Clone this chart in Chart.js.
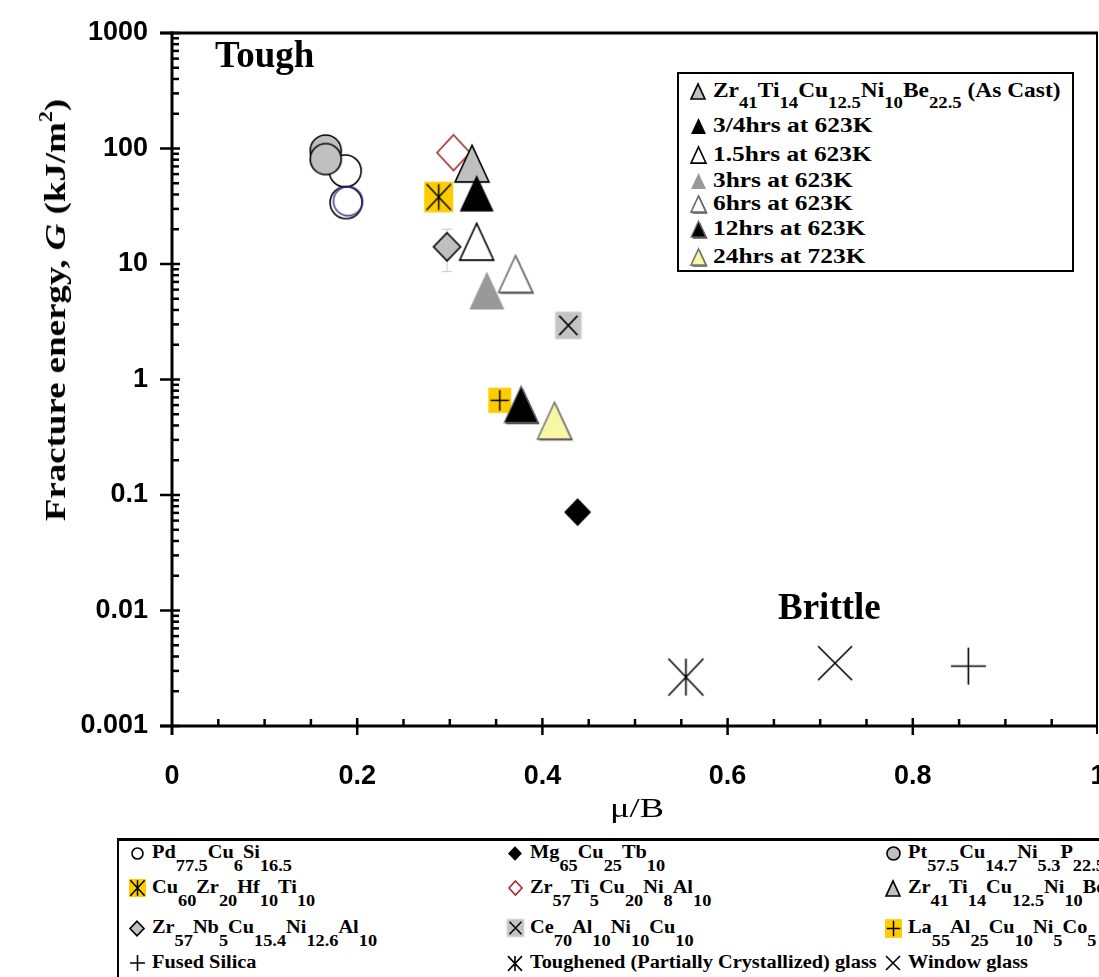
<!DOCTYPE html>
<html>
<head>
<meta charset="utf-8">
<script src="https://cdn.jsdelivr.net/npm/chart.js@4.4.1/dist/chart.umd.min.js"></script>
<style>
  html, body { margin: 0; padding: 0; background: #fff; overflow: hidden; }
  #wrap { position: relative; width: 1099px; height: 977px; overflow: hidden; background: #fff; }
  #chart { position: absolute; left: 0; top: 0; }
  .serif { position: absolute; font-family: "Liberation Serif", "Times New Roman", serif; font-weight: bold;
           line-height: 1; white-space: nowrap; color: #000; transform-origin: 0 0; }
  .box { position: absolute; border: 2px solid #000; background: #fff; }
  .mk { position: absolute; }
  .leg sub { font-size: 0.9em; vertical-align: -0.8em; line-height: 0; }
  .ins sub { font-size: 0.8em; vertical-align: -0.7em; line-height: 0; }
  #ytitle sup { font-size: 0.6em; vertical-align: 0.7em; line-height: 0; }
</style>
</head>
<body>
<div id="wrap">
  <canvas id="chart" width="1099" height="977"></canvas>
  <div class="serif" style="left:215px;top:36px;font-size:37px">Tough</div>
  <div class="serif" style="left:778px;top:588px;font-size:37px">Brittle</div>
  <div class="serif" style="left:610px;top:795px;font-size:27px;font-weight:normal;transform:scaleX(1.35)">&mu;/B</div>
  <div class="serif" id="ytitle" style="left:55px;top:310px;font-size:30px;transform-origin:50% 50%;transform:translate(-50%,-50%) rotate(-90deg) scaleX(1.23)">Fracture energy, <i>G</i> (kJ/m<sup>2</sup>)</div>
  <div class="box" id="inset" style="left:677px;top:72px;width:393px;height:196px"></div>
  <div class="box" id="legbox" style="left:117px;top:838px;width:1100px;height:200px;border-top-width:3px"></div>
</div>
<script>
// axis ticks
const xTicks = [0, 0.2, 0.4, 0.6, 0.8, 1]
const xMinorStep = 0.05
const yTicks = [0.001, 0.01, 0.1, 1, 10, 100, 1000]

// mu/B and fracture energy G (kJ/m^2)
const pdX = [0.187, 0.188]
const pdY = [64, 34]
const pdBlueX = [0.190]
const pdBlueY = [35]
const ptX = [0.166, 0.166]
const ptY = [96, 81]
const zrTiCuNiAlX = [0.304]
const zrTiCuNiAlY = [92]
const asCastX = [0.324]
const asCastY = [74]
const cuZrHfTiX = [0.288]
const cuZrHfTiY = [38]
const h075X = [0.329]
const h075Y = [41]
const zrNbX = [0.297]
const zrNbY = [14.1]
const zrNbLow = [8.6]
const zrNbHigh = [20]
const h15X = [0.329]
const h15Y = [15.6]
const h6X = [0.371]
const h6Y = [8.2]
const h3X = [0.340]
const h3Y = [5.9]
const ceX = [0.428]
const ceY = [2.94]
const laX = [0.354]
const laY = [0.66]
const h12X = [0.377]
const h12Y = [0.61]
const h24X = [0.413]
const h24Y = [0.44]
const mgX = [0.438]
const mgY = [0.071]
const tGlassX = [0.555]
const tGlassY = [0.00265]
const wGlassX = [0.716]
const wGlassY = [0.0035]
const silicaX = [0.86]
const silicaY = [0.0033]

const insetLabels = [
  "Zr<sub>41</sub>Ti<sub>14</sub>Cu<sub>12.5</sub>Ni<sub>10</sub>Be<sub>22.5</sub> (As Cast)",
  "3/4hrs at 623K",
  "1.5hrs at 623K",
  "3hrs at 623K",
  "6hrs at 623K",
  "12hrs at 623K",
  "24hrs at 723K",
]
const legendLabels = [
  "Pd<sub>77.5</sub>Cu<sub>6</sub>Si<sub>16.5</sub>",
  "Mg<sub>65</sub>Cu<sub>25</sub>Tb<sub>10</sub>",
  "Pt<sub>57.5</sub>Cu<sub>14.7</sub>Ni<sub>5.3</sub>P<sub>22.5</sub>",
  "Cu<sub>60</sub>Zr<sub>20</sub>Hf<sub>10</sub>Ti<sub>10</sub>",
  "Zr<sub>57</sub>Ti<sub>5</sub>Cu<sub>20</sub>Ni<sub>8</sub>Al<sub>10</sub>",
  "Zr<sub>41</sub>Ti<sub>14</sub>Cu<sub>12.5</sub>Ni<sub>10</sub>Be<sub>22.5</sub>",
  "Zr<sub>57</sub>Nb<sub>5</sub>Cu<sub>15.4</sub>Ni<sub>12.6</sub>Al<sub>10</sub>",
  "Ce<sub>70</sub>Al<sub>10</sub>Ni<sub>10</sub>Cu<sub>10</sub>",
  "La<sub>55</sub>Al<sub>25</sub>Cu<sub>10</sub>Ni<sub>5</sub>Co<sub>5</sub>",
  "Fused Silica",
  "Toughened (Partially Crystallized) glass",
  "Window glass",
]

// draws one symbol into a small canvas, used as a Chart.js pointStyle
function marker(shape, w, h, o = {}) {
  const pad = 4
  const c = document.createElement("canvas")
  c.width = Math.round(w) + pad * 2
  c.height = Math.round(h) + pad * 2
  const g = c.getContext("2d")
  const cx = c.width / 2, cy = c.height / 2, rx = w / 2, ry = h / 2
  if (o.shadow) { g.shadowColor = o.shadow; g.shadowOffsetX = 1.5; g.shadowOffsetY = 1.5 }
  g.beginPath()
  if (shape === "circle") g.ellipse(cx, cy, rx, ry, 0, 0, 2 * Math.PI)
  else if (shape === "triangle") { g.moveTo(cx, cy - ry); g.lineTo(cx + rx, cy + ry); g.lineTo(cx - rx, cy + ry); g.closePath() }
  else if (shape === "diamond") { g.moveTo(cx, cy - ry); g.lineTo(cx + rx, cy); g.lineTo(cx, cy + ry); g.lineTo(cx - rx, cy); g.closePath() }
  else if (shape === "square") g.rect(cx - rx, cy - ry, w, h)
  if (o.fill) { g.fillStyle = o.fill; g.fill() }
  g.shadowColor = "transparent"
  if (o.stroke) { g.lineWidth = o.lw || 1.5; g.strokeStyle = o.stroke; g.stroke() }
  if (o.glyph) {
    const k = o.inset || 0
    const l = cx - rx + k, r = cx + rx - k, t = cy - ry + k, b = cy + ry - k
    g.beginPath()
    g.lineWidth = o.glw || 1.5
    g.strokeStyle = "#000"
    if (o.glyph !== "x") { g.moveTo(cx, t); g.lineTo(cx, b) }
    if (o.glyph === "plus") { g.moveTo(l, cy); g.lineTo(r, cy) }
    if (o.glyph !== "plus") { g.moveTo(l, t); g.lineTo(r, b); g.moveTo(r, t); g.lineTo(l, b) }
    g.stroke()
  }
  return c
}

const sym = {
  pd: (s) => marker("circle", s, s, { stroke: "#000", lw: 1.6 }),
  pdBlue: (s) => marker("circle", s, s, { stroke: "#2e3192", lw: 1.4 }),
  pt: (s) => marker("circle", s, s, { fill: "#c0c0c0", stroke: "#000", lw: 1.6 }),
  zrTi: (s) => marker("diamond", s, s * 1.08, { fill: "#fff", stroke: "#a52a2a", lw: 1.6 }),
  asCast: (s) => marker("triangle", s, s * 1.08, { fill: "#c0c0c0", stroke: "#000", lw: 1.6 }),
  cuZr: (s) => marker("square", s, s * 1.06, { fill: "#ffcc00", glyph: "asterisk", inset: s * 0.08 }),
  h075: (s) => marker("triangle", s, s * 1.08, { fill: "#000" }),
  zrNb: (s) => marker("diamond", s, s * 1.04, { fill: "#c0c0c0", stroke: "#000", lw: 1.6 }),
  h15: (s) => marker("triangle", s, s * 1.08, { fill: "#fff", stroke: "#000", lw: 1.6 }),
  h6: (s) => marker("triangle", s, s * 1.08, { fill: "#fff", stroke: "#6a6a6a", lw: 1.6, shadow: "#000" }),
  h3: (s) => marker("triangle", s, s * 1.08, { fill: "#999" }),
  ce: (s) => marker("square", s, s * 1.04, { fill: "#c4c4c4", stroke: "#d8d8d8", lw: 1, glyph: "x", inset: s * 0.15 }),
  la: (s) => marker("square", s, s * 1.1, { fill: "#ffcc00", glyph: "plus", inset: s * 0.1 }),
  h12: (s) => marker("triangle", s, s * 1.08, { fill: "#000", stroke: "#777", lw: 1.2, shadow: "#000" }),
  h24: (s) => marker("triangle", s, s * 1.08, { fill: "#f8f8a4", stroke: "#777", lw: 1.6, shadow: "#000" }),
  mg: (s) => marker("diamond", s, s * 1.04, { fill: "#000" }),
  tGlass: (s) => marker("none", s, s * 1.06, { glyph: "asterisk", glw: 1.6 }),
  wGlass: (s) => marker("none", s, s, { glyph: "x", glw: 1.6 }),
  silica: (s) => marker("none", s, s * 1.06, { glyph: "plus", glw: 1.6 }),
}

function pts(xs, ys) { return xs.map((x, i) => ({ x, y: ys[i] })) }

// later entries are drawn on top
const series = [
  ["Pd77.5Cu6Si16.5", pdX, pdY, sym.pd(32)],
  ["Pd (second run)", pdBlueX, pdBlueY, sym.pdBlue(29)],
  ["Pt57.5Cu14.7Ni5.3P22.5", ptX, ptY, sym.pt(31)],
  ["Zr57Ti5Cu20Ni8Al10", zrTiCuNiAlX, zrTiCuNiAlY, sym.zrTi(33)],
  ["As Cast", asCastX, asCastY, sym.asCast(34)],
  ["Cu60Zr20Hf10Ti10", cuZrHfTiX, cuZrHfTiY, sym.cuZr(29)],
  ["3/4hrs at 623K", h075X, h075Y, sym.h075(34)],
  ["Zr57Nb5Cu15.4Ni12.6Al10", zrNbX, zrNbY, sym.zrNb(27)],
  ["1.5hrs at 623K", h15X, h15Y, sym.h15(34)],
  ["6hrs at 623K", h6X, h6Y, sym.h6(34)],
  ["3hrs at 623K", h3X, h3Y, sym.h3(35)],
  ["Ce70Al10Ni10Cu10", ceX, ceY, sym.ce(26)],
  ["La55Al25Cu10Ni5Co5", laX, laY, sym.la(23)],
  ["12hrs at 623K", h12X, h12Y, sym.h12(34)],
  ["24hrs at 723K", h24X, h24Y, sym.h24(34)],
  ["Mg65Cu25Tb10", mgX, mgY, sym.mg(27)],
  ["Toughened glass", tGlassX, tGlassY, sym.tGlass(35)],
  ["Window glass", wGlassX, wGlassY, sym.wGlass(34)],
  ["Fused Silica", silicaX, silicaY, sym.silica(35)],
]

const datasets = series.map(([label, xs, ys, style], i) => ({
  label,
  data: pts(xs, ys),
  pointStyle: style,
  pointRadius: 16,
  showLine: false,
  order: -i,
}))

function line(ctx, x1, y1, x2, y2) {
  ctx.beginPath(); ctx.moveTo(x1, y1); ctx.lineTo(x2, y2); ctx.stroke()
}

const frame = {
  id: "frame",
  beforeDatasetsDraw(chart) {
    const { ctx, scales: { x, y } } = chart
    ctx.save()
    ctx.strokeStyle = "#cfcfcf"
    ctx.lineWidth = 1.2
    zrNbX.forEach((v, i) => {
      const px = x.getPixelForValue(v)
      const lo = y.getPixelForValue(zrNbLow[i]), hi = y.getPixelForValue(zrNbHigh[i])
      line(ctx, px, lo, px, hi)
      line(ctx, px - 5, lo, px + 5, lo)
      line(ctx, px - 5, hi, px + 5, hi)
    })
    ctx.restore()
  },
  afterDraw(chart) {
    const { ctx, chartArea: a, scales: { x, y } } = chart
    ctx.save()
    ctx.strokeStyle = "#000"
    ctx.lineCap = "butt"
    ctx.lineWidth = 2
    line(ctx, a.right - 1, a.top, a.right - 1, a.bottom + 8)
    ctx.lineWidth = 3
    line(ctx, a.left - 12, a.top, a.right, a.top)
    line(ctx, a.left - 12, a.bottom, a.right, a.bottom)
    line(ctx, a.left, a.top - 1.5, a.left, a.bottom + 9)
    ctx.lineWidth = 2.5
    yTicks.forEach((v, i) => {
      const py = y.getPixelForValue(v)
      line(ctx, a.left - 12, py, a.left + 8, py)
      if (i === yTicks.length - 1) return
      for (let m = 2; m < 10; m++) {
        const pm = y.getPixelForValue(v * m)
        line(ctx, a.left, pm, a.left + 7, pm)
      }
    })
    const nMinor = Math.round(1 / xMinorStep)
    for (let i = 1; i < nMinor; i++) {
      const px = x.getPixelForValue(i * xMinorStep)
      if (i % 4 === 0) line(ctx, px, a.bottom - 8, px, a.bottom + 9)
      else line(ctx, px, a.bottom - 7, px, a.bottom)
    }
    ctx.restore()
  },
}

const tickFont = { family: "'Liberation Sans', Arial, sans-serif", weight: "bold", size: 27 }

new Chart(document.getElementById("chart"), {
  type: "scatter",
  data: { datasets },
  options: {
    responsive: false,
    animation: false,
    devicePixelRatio: 1,
    layout: { autoPadding: false, padding: { top: 33, right: 1, left: 0, bottom: 0 } },
    plugins: { legend: { display: false }, tooltip: { enabled: false } },
    scales: {
      x: {
        type: "linear", min: 0, max: 1,
        grid: { display: false, drawTicks: false },
        border: { display: false },
        afterBuildTicks: s => { s.ticks = xTicks.map(v => ({ value: v })) },
        ticks: { autoSkip: false, maxRotation: 0, padding: 34, color: "#000", font: tickFont, callback: v => String(v) },
        afterFit: s => { s.height = 251; s.paddingLeft = 0; s.paddingRight = 0 },
      },
      y: {
        type: "logarithmic", min: 0.001, max: 1000,
        grid: { display: false, drawTicks: false },
        border: { display: false },
        afterBuildTicks: s => { s.ticks = yTicks.map(v => ({ value: v, major: true })) },
        ticks: { autoSkip: false, padding: 24, color: "#000", font: tickFont, callback: v => String(v) },
        afterFit: s => { s.width = 172; s.paddingTop = 0; s.paddingBottom = 0 },
      },
    },
  },
  plugins: [frame],
})

// legends drawn as HTML so formulas can carry subscripts
const wrap = document.getElementById("wrap")
function addIcon(canvas, cx, cy) {
  const img = document.createElement("img")
  img.src = canvas.toDataURL()
  img.className = "mk"
  img.style.left = (cx - canvas.width / 2) + "px"
  img.style.top = (cy - canvas.height / 2) + "px"
  wrap.appendChild(img)
}
function addText(html, left, baseline, size, sx, cls) {
  const d = document.createElement("div")
  d.className = "serif " + cls
  d.style.left = left + "px"
  d.style.top = (baseline - 0.8375 * size) + "px"
  d.style.fontSize = size + "px"
  d.style.transform = "scaleX(" + sx + ")"
  d.innerHTML = html
  wrap.appendChild(d)
}

const insetIcons = [sym.asCast(14), sym.h075(15), sym.h15(15), sym.h3(15), sym.h6(15), sym.h12(15), sym.h24(15)]
const insetBase = [97, 132, 161, 187, 210, 235, 263]
insetLabels.forEach((t, i) => {
  addIcon(insetIcons[i], 698, insetBase[i] - 6)
  addText(t, 713, insetBase[i], 20, i === 0 ? 1.17 : 1.27, "ins")
})

const legendIcons = [
  sym.pd(11), sym.mg(14), sym.pt(13),
  sym.cuZr(17), sym.zrTi(13), sym.asCast(14),
  sym.zrNb(14), sym.ce(17), sym.la(17),
  sym.silica(15), sym.tGlass(14), sym.wGlass(14),
]
const colIcon = [137, 515, 893]
const colText = [152, 530, 908]
const rowBase = [858, 893, 933, 968]
legendLabels.forEach((t, i) => {
  const c = i % 3, r = Math.floor(i / 3)
  addIcon(legendIcons[i], colIcon[c], rowBase[r] - 5)
  addText(t, colText[c], rowBase[r], 18, 1.13, "leg")
})
</script>
</body>
</html>
